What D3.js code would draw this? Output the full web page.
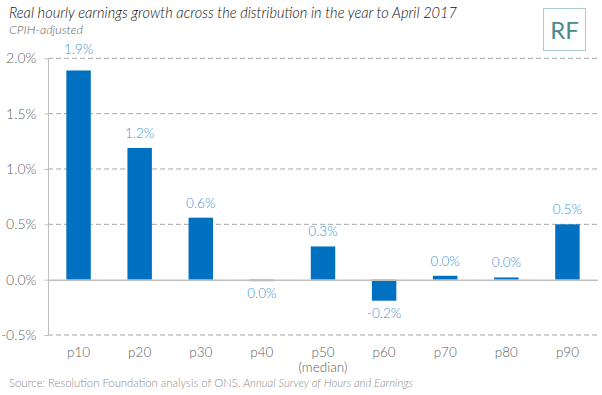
<!DOCTYPE html>
<html><head><meta charset="utf-8">
<script src="https://cdn.jsdelivr.net/npm/d3@7"></script>
<style>body{margin:0;background:#fff}svg{display:block;font-family:Lato,"Open Sans",sans-serif}</style>
</head><body><svg id="c" width="602" height="395"></svg>
<script>
const categories = ["p10","p20","p30","p40","p50","p60","p70","p80","p90"];
const subLabels = ["","","","","(median)","","","",""];
const values = [1.89, 1.19, 0.56, -0.01, 0.30, -0.19, 0.035, 0.02, 0.50];
const valueLabels = ["1.9%","1.2%","0.6%","0.0%","0.3%","-0.2%","0.0%","0.0%","0.5%"];
const yTicks = [-0.5, 0, 0.5, 1.0, 1.5, 2.0];

const svg = d3.select("#c");
const x = d3.scaleBand().domain(categories).range([48, 598]).paddingInner(0.6).paddingOuter(0.3);
const y = d3.scaleLinear().domain([-0.5, 2.0]).range([335, 58.3]);

// gridlines
svg.append("g").selectAll("line").data(yTicks.filter(d => d !== 0)).join("line")
  .attr("x1", 48).attr("x2", 598).attr("y1", d => y(d)).attr("y2", d => y(d))
  .attr("stroke", "#a6a6a6").attr("stroke-width", 1).attr("stroke-dasharray", "5,3");

// y axis
const yAxis = d3.axisLeft(y).tickValues(yTicks).tickSize(4).tickPadding(8)
  .tickFormat(d => d.toFixed(1) + "%");
const ga = svg.append("g").attr("transform", "translate(48.5,0)").call(yAxis);
ga.select(".domain").attr("stroke", "#bfbfbf").attr("d", `M0,${y(2.0)}V${y(-0.5)}`);
ga.selectAll(".tick line").attr("stroke", "#bfbfbf");
ga.selectAll(".tick text").attr("fill", "#5f5f5f").attr("font-size", 14).attr("font-weight", 300).attr("font-family", "Lato");

// bars
svg.append("g").selectAll("rect").data(values).join("rect")
  .attr("x", (d, i) => x(categories[i]))
  .attr("width", x.bandwidth())
  .attr("y", d => y(Math.max(0, d)))
  .attr("height", d => Math.max(1.5, Math.abs(y(d) - y(0))))
  .attr("fill", "#0070c0");

// zero line
svg.append("line").attr("x1", 48).attr("x2", 598).attr("y1", y(0) + 0.5).attr("y2", y(0) + 0.5)
  .attr("stroke", "#bfbfbf").attr("stroke-width", 1.5);

// value labels
svg.append("g").selectAll("text").data(values).join("text")
  .attr("x", (d, i) => x(categories[i]) + x.bandwidth() / 2)
  .attr("y", (d, i) => d >= 0 ? y(d) - (i === 0 ? 16 : 10) : y(d) + 17)
  .attr("text-anchor", "middle").attr("font-size", 13.5).attr("font-weight", 300).attr("fill", "#3f93d6")
  .text((d, i) => valueLabels[i]);

// x labels
const xl = svg.append("g");
xl.selectAll("text.cat").data(categories).join("text").attr("class", "cat")
  .attr("x", d => x(d) + x.bandwidth() / 2).attr("y", 357)
  .attr("text-anchor", "middle").attr("font-size", 13.5).attr("font-weight", 300).attr("fill", "#5f5f5f").text(d => d);
xl.selectAll("text.sub").data(subLabels).join("text").attr("class", "sub")
  .attr("x", (d, i) => x(categories[i]) + x.bandwidth() / 2).attr("y", 372)
  .attr("text-anchor", "middle").attr("font-size", 13.5).attr("font-weight", 300).attr("fill", "#5f5f5f").text(d => d);

// title
svg.append("text").attr("x", 9).attr("y", 18).attr("font-size", 14.6).attr("font-style", "italic").attr("font-weight", 300)
  .attr("fill", "#111").text("Real hourly earnings growth across the distribution in the year to April 2017");
svg.append("text").attr("x", 9).attr("y", 34).attr("font-size", 12.5).attr("font-style", "italic").attr("font-weight", 300)
  .attr("fill", "#5f5f5f").text("CPIH-adjusted");

// source
const src = svg.append("text").attr("x", 9).attr("y", 387).attr("font-size", 11.3).attr("font-weight", 300).attr("fill", "#8c8c8c");
src.append("tspan").text("Source: Resolution Foundation analysis of ONS, ");
src.append("tspan").attr("font-style", "italic").text("Annual Survey of Hours and Earnings");

// logo
svg.append("rect").attr("x", 543.5).attr("y", 8.5).attr("width", 42).attr("height", 42)
  .attr("fill", "#fff").attr("stroke", "#a9cccc").attr("stroke-width", 1);
svg.append("text").attr("x", 564.5).attr("y", 39).attr("text-anchor", "middle").attr("font-size", 24).attr("font-weight", 400)
  .attr("fill", "#4d8a8a").text("RF");
</script></body></html>
